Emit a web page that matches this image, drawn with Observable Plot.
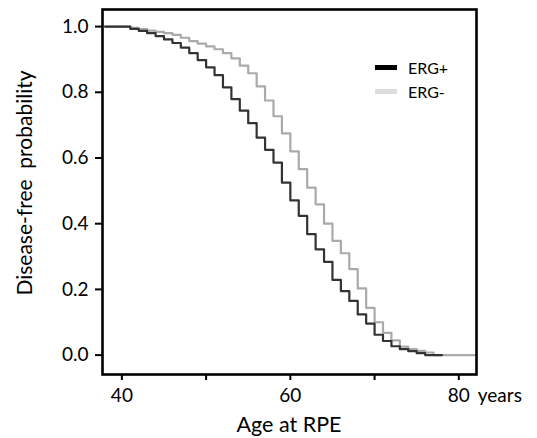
<!DOCTYPE html>
<html>
<head>
<meta charset="utf-8">
<script src="https://cdn.jsdelivr.net/npm/d3@7"></script>
<script src="https://cdn.jsdelivr.net/npm/@observablehq/plot@0.6"></script>
<style>
  html, body { margin: 0; padding: 0; background: #fff; }
  #wrap { position: relative; width: 537px; height: 438px; font-family: Lato, "Open Sans", sans-serif; }
  .leg { position: absolute; display: flex; align-items: center; font-size: 16px; color: #000; }
  .sw { width: 22px; height: 5px; margin-right: 11px; }
</style>
</head>
<body>
<div id="wrap"></div>
<script>
// ERG+ (black) Kaplan-Meier steps
const ergPosAge = [38,41,42,43,44,45,46,47,48,49,50,51,52,53,54,55,56,57,58,59,60,61,62,63,64,65,66,67,68,69,70,71,72,73,74,75,76,78];
const ergPosVal = [1.0,0.993,0.987,0.980,0.971,0.961,0.950,0.936,0.919,0.898,0.876,0.852,0.815,0.779,0.744,0.706,0.662,0.625,0.586,0.525,0.471,0.424,0.368,0.322,0.284,0.229,0.195,0.165,0.124,0.096,0.062,0.043,0.027,0.018,0.012,0.006,0.0,0.0];
// ERG- (gray) Kaplan-Meier steps
const ergNegAge = [38,41,42,43,44,45,46,47,48,49,50,51,52,53,54,55,56,57,58,59,60,61,62,63,64,65,66,67,68,69,70,71,72,73,74,75,76,77,82];
const ergNegVal = [1.0,0.996,0.992,0.988,0.984,0.980,0.975,0.966,0.956,0.948,0.940,0.931,0.919,0.903,0.881,0.858,0.818,0.775,0.727,0.675,0.620,0.566,0.510,0.459,0.400,0.348,0.310,0.262,0.203,0.144,0.100,0.068,0.045,0.026,0.018,0.013,0.008,0.0,0.0];

const seriesNames = ["ERG+", "ERG-"];
const seriesColors = ["#333333", "#aaaaaa"];
const legendColors = ["#000000", "#dddddd"];
const xTicks = [40, 50, 60, 70, 80];
const xLabeled = [40, 60, 80];
const yTicks = [0, 0.2, 0.4, 0.6, 0.8, 1.0];

const pos = ergPosAge.map((a, i) => ({age: a, p: ergPosVal[i], s: "ERG+"}));
const neg = ergNegAge.map((a, i) => ({age: a, p: ergNegVal[i], s: "ERG-"}));

const fontSize = 19;
const plot = Plot.plot({
  width: 537,
  height: 438,
  marginLeft: 102,
  marginRight: 61,
  marginTop: 9,
  marginBottom: 64,
  style: {fontFamily: "Lato, 'Open Sans', sans-serif", fontSize: fontSize + "px", color: "#000", background: "#fff"},
  x: {domain: [37.7, 82.1]},
  y: {domain: [-0.059, 1.052]},
  marks: [
    Plot.line(neg, {x: "age", y: "p", curve: "step-after", stroke: seriesColors[1], strokeWidth: 2.2}),
    Plot.line(pos, {x: "age", y: "p", curve: "step-after", stroke: seriesColors[0], strokeWidth: 2.2}),
    Plot.frame({stroke: "#000", strokeWidth: 2.6}),
    Plot.axisY({ticks: yTicks, tickFormat: d3.format(".1f"), tickSize: 7, tickPadding: 7, strokeWidth: 2, label: null, fontSize: fontSize}),
    Plot.axisX({ticks: xTicks, tickFormat: d => xLabeled.includes(d) ? String(d) : "", tickSize: 6, tickPadding: 8, strokeWidth: 2, label: null, fontSize: fontSize}),
    Plot.axisX({ticks: [80], tickFormat: () => "years", tickSize: 0, tickPadding: 14, textAnchor: "start", dx: 19, label: null, fontSize: fontSize})
  ]
});

const svg = d3.select(plot);
svg.append("text")
  .attr("x", 289).attr("y", 432)
  .attr("text-anchor", "middle")
  .attr("font-size", 21.5)
  .attr("fill", "#000")
  .text("Age at RPE");
svg.append("text")
  .attr("transform", "translate(32,183) rotate(-90)")
  .attr("text-anchor", "middle")
  .attr("font-size", 21)
  .attr("fill", "#000")
  .style("white-space", "pre")
  .text("Disease-free  probability");

const wrap = document.getElementById("wrap");
wrap.appendChild(plot);
seriesNames.forEach((n, i) => {
  const d = document.createElement("div");
  d.className = "leg";
  d.style.left = "375px";
  d.style.top = (58 + i * 24) + "px";
  d.innerHTML = `<span class="sw" style="background:${legendColors[i]}"></span><span>${n}</span>`;
  wrap.appendChild(d);
});
</script>
</body>
</html>
